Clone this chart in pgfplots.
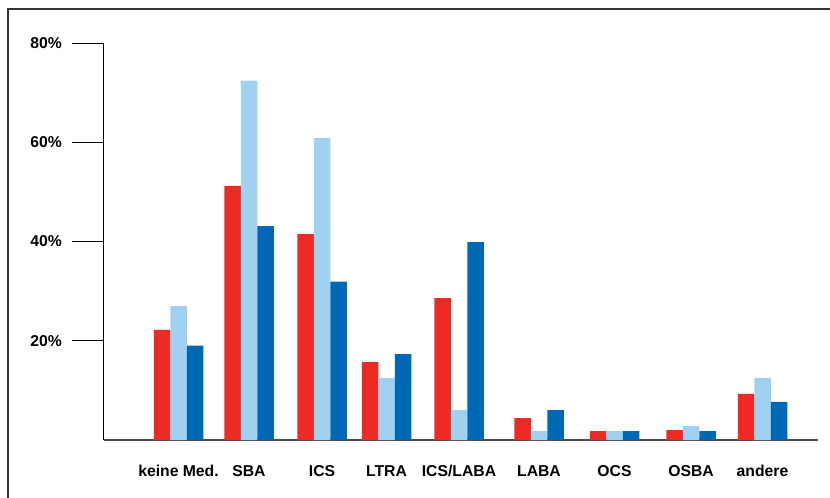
\documentclass[border=0pt]{standalone}
\usepackage{fontspec}
\setmainfont{Liberation Sans}
\usepackage{pgfplots}
\pgfplotsset{compat=1.18}

\definecolor{cRed}{RGB}{238,42,36}
\definecolor{cLight}{RGB}{161,209,241}
\definecolor{cDark}{RGB}{0,104,181}

\begin{document}
\begin{tikzpicture}[x=0.75pt,y=0.75pt]
\useasboundingbox (0,0) rectangle (830,497);
% partial frame (top and left edge)
\draw[line width=1.1pt, black!80] (8,-5) -- (8,488) -- (840,488);
\begin{axis}[
  at={(78pt,42.75pt)}, anchor=south west,
  scale only axis, width=535.5pt, height=297.75pt,
  xmin=104, xmax=818, ymin=0, ymax=80,
  axis x line=bottom, axis y line=left,
  x axis line style={-, line width=1.1pt, black!70},
  y axis line style={-, line width=0.75pt, black},
  xtick={178.5,249,322,386.5,459,539,614.5,691,762.5},
  xticklabels={keine Med.,SBA,ICS,LTRA,ICS/LABA,LABA,OCS,OSBA,andere},
  ytick={20,40,60,80},
  yticklabels={20\%,40\%,60\%,80\%},
  tick align=outside,
  major tick length=24pt,
  x tick style={draw=none},
  y tick style={line width=0.75pt, black},
  ticklabel style={font=\fontsize{11.8}{14}\selectfont\bfseries},
  xticklabel style={anchor=north, yshift=9pt, text height=8.8pt, text depth=2.5pt},
  yticklabel style={xshift=-4pt},
  /pgf/number format/assume math mode=true,
  clip=false,
]
\addplot[ybar, bar width=16.5, bar shift=-16.5, fill=cRed, draw=none] coordinates {
  (178.5,22.2) (249,51.2) (322,41.5) (386.5,15.7) (459,28.6)
  (539,4.4) (614.5,1.8) (691,2.0) (762.5,9.3)};
\addplot[ybar, bar width=16.5, bar shift=0, fill=cLight, draw=none] coordinates {
  (178.5,27.0) (249,72.4) (322,60.9) (386.5,12.5) (459,6.0)
  (539,1.8) (614.5,1.8) (691,2.8) (762.5,12.5)};
\addplot[ybar, bar width=16.5, bar shift=16.5, fill=cDark, draw=none] coordinates {
  (178.5,19.0) (249,43.1) (322,31.9) (386.5,17.3) (459,39.9)
  (539,6.0) (614.5,1.8) (691,1.8) (762.5,7.7)};
\end{axis}
\end{tikzpicture}
\end{document}
